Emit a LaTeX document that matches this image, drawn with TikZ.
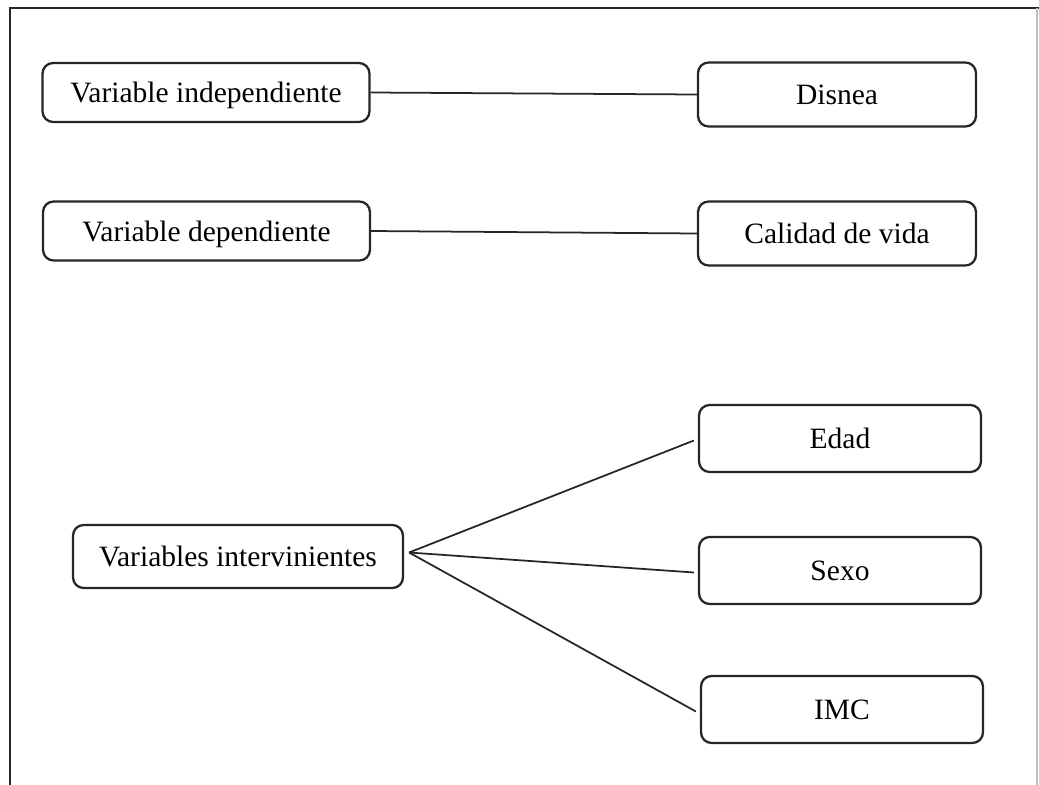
\documentclass[tikz,border=0pt]{standalone}
\usepackage{fontspec}
\setmainfont{Liberation Serif}
\usetikzlibrary{calc}

\tikzset{
 varbox/.style={draw=black!85, line width=1.3pt, rounded corners=6pt, fill=white,
  font=\fontsize{16.8}{20}\selectfont, inner sep=0pt, text height=13.5pt, text depth=2pt},
 leftbox/.style={varbox, minimum width=6.54cm, minimum height=1.18cm},
 rightbox/.style={varbox, minimum width=5.56cm, minimum height=1.28cm},
 link/.style={black!85, line width=1pt}
}

\begin{document}
\begin{tikzpicture}[x=.02cm, y=-.02cm]
\useasboundingbox (0,0) rectangle (1039,785);
% marco
\draw[black!85, line width=1.3pt] (10,785)--(10,8)--(1039,8);
\draw[black!25, line width=.6pt] (1037,8)--(1037,785);
% variables
\node[leftbox] (indep) at (206,92.5) {Variable independiente};
\node[leftbox] (dep) at (206.5,231) {Variable dependiente};
\node[leftbox, minimum width=6.6cm, minimum height=1.26cm] (interv) at (238,556.5) {Variables intervinientes};
\node[rightbox] (disnea) at (837,94.5) {Disnea};
\node[rightbox] (calidad) at (837,233.5) {Calidad de vida};
\foreach \name/\txt/\x/\y in {edad/Edad/840/438.5, sexo/Sexo/840/570.5, imc/IMC/842/709.5} {
 \node[rightbox, minimum width=5.64cm, minimum height=1.34cm] (\name) at (\x,\y) {\txt};
}
\draw[link] (indep.east)--(disnea.west);
\draw[link] (dep.east)--(calidad.west);
\coordinate (fan) at ($(interv.east)+(5,-4)$);
\foreach \name in {edad, sexo, imc} {
 \draw[link] (fan)--($(\name.west)+(-4,2)$);
}
\end{tikzpicture}
\end{document}
